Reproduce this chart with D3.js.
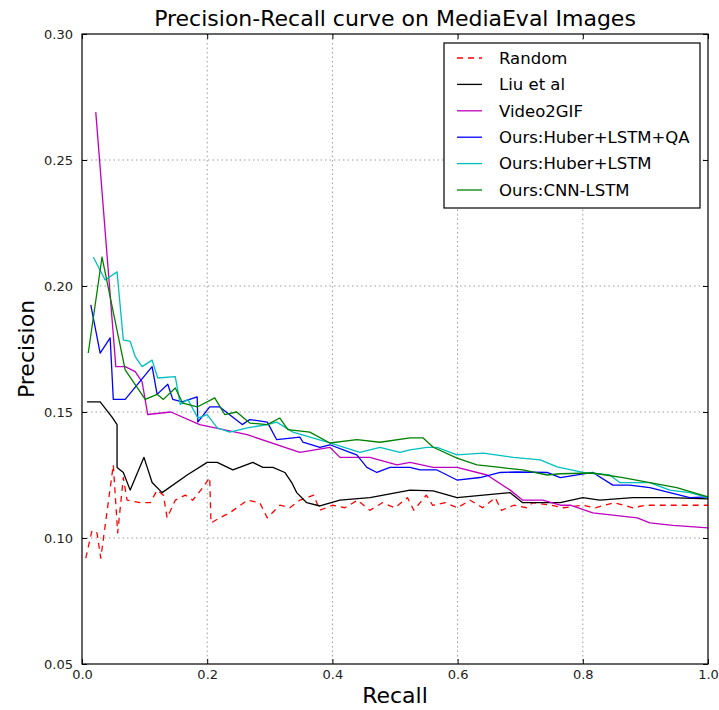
<!DOCTYPE html>
<html lang="en">
<head>
<meta charset="UTF-8">
<title>Precision-Recall curve</title>
<style>
  body { margin: 0; background: #fff; }
  text { font-family: "DejaVu Sans", sans-serif; }
</style>
</head>
<body>
<script src="https://d3js.org/d3.v7.min.js"></script>
<svg id="chart"></svg>
<script>
// [recall, precision] pairs
var random = [[0.006,0.092],[0.016,0.103],[0.024,0.102],[0.030,0.092],[0.050,0.129],[0.057,0.102],
  [0.066,0.124],[0.072,0.115],[0.093,0.114],[0.109,0.114],[0.120,0.119],[0.130,0.117],[0.136,0.108],
  [0.149,0.115],[0.165,0.117],[0.177,0.115],[0.193,0.120],[0.204,0.124],[0.206,0.106],[0.220,0.108],
  [0.236,0.110],[0.264,0.115],[0.284,0.114],[0.296,0.108],[0.316,0.113],[0.332,0.112],[0.348,0.115],
  [0.37,0.117],[0.38,0.111],[0.40,0.113],[0.42,0.112],[0.44,0.115],[0.46,0.111],[0.48,0.114],
  [0.50,0.112],[0.52,0.116],[0.53,0.111],[0.55,0.117],[0.56,0.113],[0.58,0.114],[0.60,0.112],
  [0.62,0.115],[0.64,0.112],[0.66,0.116],[0.67,0.111],[0.69,0.113],[0.71,0.112],[0.72,0.114],
  [0.75,0.113],[0.77,0.112],[0.80,0.113],[0.82,0.112],[0.85,0.114],[0.88,0.112],[0.90,0.113],
  [0.93,0.113],[0.96,0.113],[1.0,0.113]];

var liu = [[0.008,0.154],[0.029,0.154],[0.048,0.148],[0.056,0.145],[0.056,0.128],[0.066,0.126],
  [0.077,0.119],[0.099,0.132],[0.112,0.122],[0.128,0.118],[0.168,0.125],[0.200,0.130],[0.216,0.130],
  [0.241,0.127],[0.273,0.130],[0.289,0.128],[0.305,0.128],[0.324,0.126],[0.335,0.122],[0.343,0.118],
  [0.359,0.114],[0.380,0.1127],[0.412,0.115],[0.46,0.116],[0.524,0.119],[0.561,0.1187],[0.599,0.116],
  [0.641,0.117],[0.684,0.118],[0.704,0.114],[0.743,0.114],[0.764,0.114],[0.800,0.116],[0.827,0.115],
  [0.880,0.116],[0.939,0.116],[1.0,0.1155]];

var video2gif = [[0.022,0.269],[0.054,0.168],[0.069,0.168],[0.085,0.166],[0.096,0.162],[0.105,0.149],
  [0.142,0.150],[0.188,0.145],[0.264,0.141],[0.348,0.134],[0.396,0.136],[0.412,0.132],[0.46,0.132],
  [0.503,0.129],[0.524,0.130],[0.561,0.128],[0.599,0.128],[0.647,0.125],[0.684,0.119],[0.704,0.115],
  [0.736,0.115],[0.764,0.113],[0.78,0.113],[0.816,0.110],[0.887,0.108],[0.907,0.106],[0.944,0.105],
  [1.0,0.104]];

var huberQA = [[0.014,0.1925],[0.029,0.1734],[0.045,0.1794],[0.050,0.155],[0.069,0.155],[0.112,0.168],
  [0.120,0.157],[0.137,0.161],[0.145,0.155],[0.160,0.154],[0.184,0.156],[0.185,0.146],[0.204,0.152],
  [0.220,0.152],[0.256,0.145],[0.268,0.147],[0.296,0.146],[0.311,0.139],[0.348,0.140],[0.353,0.138],
  [0.380,0.136],[0.396,0.137],[0.428,0.134],[0.439,0.133],[0.455,0.128],[0.471,0.126],[0.492,0.128],
  [0.524,0.128],[0.540,0.127],[0.567,0.127],[0.599,0.123],[0.636,0.124],[0.668,0.126],[0.695,0.1262],
  [0.743,0.126],[0.764,0.124],[0.816,0.126],[0.848,0.121],[0.875,0.121],[0.907,0.120],[0.939,0.118],
  [0.971,0.116],[1.0,0.1163]];

var huber = [[0.018,0.2115],[0.037,0.2024],[0.056,0.2056],[0.066,0.1786],[0.077,0.178],[0.085,0.172],
  [0.096,0.168],[0.112,0.1706],[0.121,0.1635],[0.149,0.164],[0.157,0.153],[0.169,0.155],[0.185,0.1476],
  [0.200,0.149],[0.216,0.1437],[0.236,0.142],[0.264,0.1437],[0.296,0.145],[0.311,0.146],[0.337,0.142],
  [0.396,0.1377],[0.444,0.134],[0.476,0.136],[0.508,0.134],[0.524,0.135],[0.551,0.136],[0.567,0.136],
  [0.599,0.133],[0.641,0.1337],[0.689,0.132],[0.732,0.131],[0.759,0.1282],[0.80,0.126],[0.843,0.125],
  [0.859,0.122],[0.907,0.122],[0.939,0.119],[0.971,0.118],[1.0,0.116]];

var cnnLstm = [[0.010,0.1734],[0.032,0.2115],[0.048,0.192],[0.069,0.1667],[0.101,0.155],[0.120,0.157],
  [0.130,0.155],[0.149,0.1595],[0.161,0.1535],[0.184,0.152],[0.212,0.1556],[0.228,0.149],[0.247,0.150],
  [0.268,0.1456],[0.296,0.145],[0.316,0.1476],[0.329,0.143],[0.364,0.142],[0.396,0.1377],[0.439,0.139],
  [0.476,0.138],[0.524,0.1397],[0.545,0.1397],[0.561,0.136],[0.599,0.1317],[0.631,0.129],[0.668,0.128],
  [0.704,0.127],[0.743,0.125],[0.764,0.1255],[0.816,0.1258],[0.864,0.124],[0.907,0.122],[0.95,0.120],
  [1.0,0.1163]];

var seriesNames = ["Random", "Liu et al", "Video2GIF", "Ours:Huber+LSTM+QA", "Ours:Huber+LSTM", "Ours:CNN-LSTM"];
var seriesColors = ["#ff0000", "#000000", "#bf00bf", "#0000ff", "#00bfbf", "#008000"];
var seriesData = [random, liu, video2gif, huberQA, huber, cnnLstm];
var xTicks = [0, 0.2, 0.4, 0.6, 0.8, 1.0];
var yTicks = [0.05, 0.10, 0.15, 0.20, 0.25, 0.30];

var margin = {top: 34, right: 11, bottom: 46, left: 82},
    outerWidth = 719, outerHeight = 710,
    width = outerWidth - margin.left - margin.right,
    height = outerHeight - margin.top - margin.bottom;

var svg = d3.select("#chart")
    .attr("width", outerWidth)
    .attr("height", outerHeight);
var g = svg.append("g")
    .attr("transform", `translate(${margin.left}, ${margin.top})`);

var x = d3.scaleLinear().domain([0, 1]).range([0, width]);
var y = d3.scaleLinear().domain([0.05, 0.30]).range([height, 0]);

// dotted grid
g.append("g").selectAll("line")
    .data(xTicks.slice(1, -1)).enter().append("line")
    .attr("x1", d => x(d)).attr("x2", d => x(d))
    .attr("y1", 0).attr("y2", height)
    .attr("stroke", "#9a9a9a").attr("stroke-width", 1).attr("stroke-dasharray", "1.5,3");
g.append("g").selectAll("line")
    .data(yTicks.slice(1, -1)).enter().append("line")
    .attr("y1", d => y(d)).attr("y2", d => y(d))
    .attr("x1", 0).attr("x2", width)
    .attr("stroke", "#9a9a9a").attr("stroke-width", 1).attr("stroke-dasharray", "1.5,3");

// axes, ticks pointing inward like classic matplotlib
function styleAxis(sel) {
    sel.select(".domain").remove();
    sel.selectAll("text").style("font-size", "13px").attr("fill", "#222");
    sel.selectAll("line").attr("stroke", "#000");
}
g.append("g").attr("transform", `translate(0, ${height})`)
    .call(d3.axisBottom(x).tickValues(xTicks).tickFormat(d3.format(".1f")).tickSize(-5).tickPadding(6))
    .call(styleAxis);
g.append("g")
    .call(d3.axisLeft(y).tickValues(yTicks).tickFormat(d3.format(".2f")).tickSize(-5).tickPadding(9))
    .call(styleAxis);
g.append("g")
    .call(d3.axisTop(x).tickValues(xTicks).tickFormat("").tickSize(-5))
    .call(styleAxis);
g.append("g").attr("transform", `translate(${width}, 0)`)
    .call(d3.axisRight(y).tickValues(yTicks).tickFormat("").tickSize(-5))
    .call(styleAxis);

// curves
var line = d3.line().x(d => x(d[0])).y(d => y(d[1]));
g.append("g").selectAll("path")
    .data(seriesData).enter().append("path")
    .attr("d", line)
    .attr("fill", "none")
    .attr("stroke", (d, i) => seriesColors[i])
    .attr("stroke-width", 1.3)
    .attr("stroke-linejoin", "round")
    .attr("stroke-dasharray", (d, i) => i == 0 ? "6,5" : null);

// frame
g.append("rect")
    .attr("width", width).attr("height", height)
    .attr("fill", "none").attr("stroke", "#000").attr("stroke-width", 1.2);

// titles
svg.append("text")
    .attr("x", margin.left + width / 2).attr("y", 26)
    .attr("text-anchor", "middle")
    .style("font-size", "22px")
    .text("Precision-Recall curve on MediaEval Images");
svg.append("text")
    .attr("x", margin.left + width / 2).attr("y", 703)
    .attr("text-anchor", "middle")
    .style("font-size", "22px")
    .text("Recall");
svg.append("text")
    .attr("transform", `translate(34, ${margin.top + height / 2}) rotate(-90)`)
    .attr("text-anchor", "middle")
    .style("font-size", "22px")
    .text("Precision");

// legend
var legend = svg.append("g").attr("transform", "translate(444, 43)");
legend.append("rect")
    .attr("width", 256).attr("height", 165)
    .attr("fill", "#fff").attr("stroke", "#000").attr("stroke-width", 1.2);
var rows = legend.selectAll("g.row")
    .data(seriesNames).enter().append("g")
    .attr("class", "row")
    .attr("transform", (d, i) => `translate(0, ${15 + i * 26.4})`);
rows.append("line")
    .attr("x1", 13).attr("x2", 38)
    .attr("stroke", (d, i) => seriesColors[i])
    .attr("stroke-width", 1.3)
    .attr("stroke-dasharray", (d, i) => i == 0 ? "6,5" : null);
rows.append("text")
    .attr("x", 55).attr("dy", "0.35em")
    .style("font-size", "16.5px")
    .text(d => d);
</script>
</body>
</html>
